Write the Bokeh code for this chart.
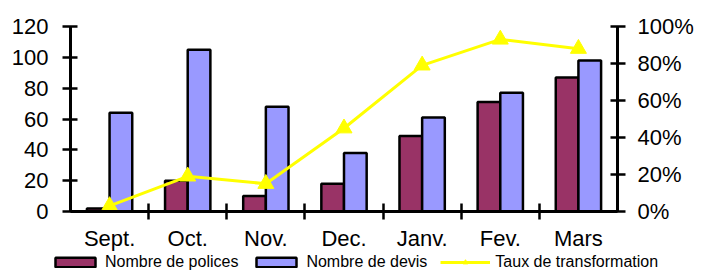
from bokeh.plotting import figure
from bokeh.models import (Range1d, LinearAxis, FixedTicker, NumeralTickFormatter,
                          Legend, LegendItem, ColumnDataSource)
from bokeh.embed import file_html
from bokeh.resources import INLINE

months = ["Sept.", "Oct.", "Nov.", "Dec.", "Janv.", "Fev.", "Mars"]
polices = [2, 20, 10, 18, 49, 71, 87]
devis = [64, 105, 68, 38, 61, 77, 98]
taux = [0.03, 0.19, 0.15, 0.45, 0.79, 0.93, 0.88]
left_ticks = [0, 20, 40, 60, 80, 100, 120]
right_ticks = [0, 0.2, 0.4, 0.6, 0.8, 1.0]

FONT = "Liberation Sans"
n = len(months)
centers = [i + 0.5 for i in range(n)]
bw = 0.29
src = ColumnDataSource(dict(
    x=centers,
    xp=[c - bw / 2 for c in centers],
    xd=[c + bw / 2 for c in centers],
    polices=polices, devis=devis, taux=taux))

# Canvas geometry (px): plot area from x=70..617, y=26..211 on a 704x271 canvas
W, H = 704, 271
L, R, T, B = 70, 617, 26, 211
ux = (R - L) / n
uy = (B - T) / 120.0
up = (B - T) / 1.0
x_rng = Range1d(-L / ux, n + (W - R) / ux)
y_rng = Range1d(-(H - B) / uy, 120 + T / uy)

p = figure(width=W, height=H, x_range=x_rng, y_range=y_rng,
           output_backend="svg", toolbar_location=None,
           min_border=0, x_axis_type=None, y_axis_type=None)
p.outline_line_color = None
p.xgrid.visible = False
p.ygrid.visible = False
p.background_fill_color = "white"
p.border_fill_color = "white"

p.extra_y_ranges = {"pct": Range1d(-(H - B) / up, 1 + T / up)}

def style(ax):
    ax.axis_line_width = 3
    ax.axis_line_color = "black"
    ax.major_tick_line_width = 2.5
    ax.major_tick_line_color = "black"
    ax.major_label_text_font = FONT
    ax.major_label_text_font_size = "22px"
    ax.major_label_text_color = "black"

xa = LinearAxis(ticker=FixedTicker(ticks=centers, minor_ticks=list(range(1, n))),
                major_label_overrides={c: m for c, m in zip(centers, months)},
                fixed_location=0, bounds=(0, n))
style(xa)
xa.major_tick_in = 0
xa.major_tick_out = 0
xa.minor_tick_in = 8
xa.minor_tick_out = 8
xa.minor_tick_line_width = 2.5
xa.minor_tick_line_color = "black"
xa.major_label_standoff = 6
p.add_layout(xa, "below")

ya = LinearAxis(ticker=FixedTicker(ticks=left_ticks), fixed_location=0,
                bounds=(0, 120))
style(ya)
ya.major_tick_in = 7
ya.major_tick_out = 8
ya.minor_tick_line_color = None
ya.major_label_standoff = 14
p.add_layout(ya, "left")

ra = LinearAxis(y_range_name="pct", ticker=FixedTicker(ticks=right_ticks),
                formatter=NumeralTickFormatter(format="0%"), fixed_location=n,
                bounds=(0, 1))
style(ra)
ra.major_tick_in = 7
ra.major_tick_out = 8
ra.minor_tick_line_color = None
ra.major_label_standoff = 12
p.add_layout(ra, "right")

rp = p.vbar(x="xp", top="polices", width=bw, bottom=0, source=src,
            fill_color="#993366", line_color="black", line_width=2.5)
rd = p.vbar(x="xd", top="devis", width=bw, bottom=0, source=src,
            fill_color="#9999FF", line_color="black", line_width=2.5)
rl = p.line(x="x", y="taux", source=src, y_range_name="pct",
            line_color="#FFFF00", line_width=3)
rm = p.scatter(x="x", y="taux", source=src, y_range_name="pct", marker="triangle",
               size=16, fill_color="#FFFF00", line_color="#FFFF00")

legend = Legend(items=[
    LegendItem(label="Nombre de polices", renderers=[rp]),
    LegendItem(label="Nombre de devis", renderers=[rd]),
    LegendItem(label="Taux de transformation", renderers=[rl, rm]),
], location=(50, 0), orientation="horizontal")
legend.label_text_font = FONT
legend.label_text_font_size = "16px"
legend.label_text_color = "black"
legend.glyph_width = 50
legend.glyph_height = 12
legend.label_standoff = 5
legend.spacing = 13
legend.padding = 0
legend.margin = 0
legend.border_line_color = None
legend.background_fill_alpha = 0
legend.label_height = 12
p.add_layout(legend, "center")

open("out.html", "w").write(file_html(p, INLINE))
